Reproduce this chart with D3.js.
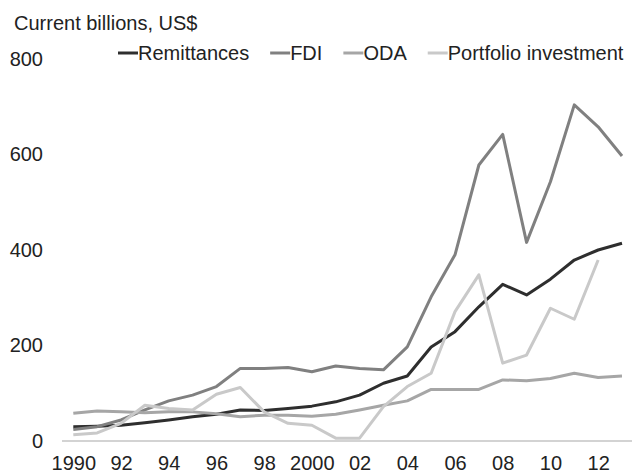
<!DOCTYPE html>
<html lang="en">
  <head>
    <title>flows</title>
    <script src="https://d3js.org/d3.v7.min.js"></script>
    <style>
      body {margin:0; background-color:white;}
      svg text {font-family:"Liberation Sans", Arial, sans-serif; fill:#222;}
    </style>
  </head>
  <body>
    <script>
      // data, billions of current US$
      const years = d3.range(1990, 2014);
      const remittances = [30, 31, 33, 38, 44, 51, 56, 65, 64, 68, 73, 82, 96, 121, 136, 197, 229, 281, 328, 306, 339, 379, 400, 414];
      const fdi = [24, 30, 44, 65, 84, 96, 114, 152, 152, 154, 145, 157, 152, 149, 197, 302, 390, 578, 642, 416, 543, 704, 658, 597];
      const oda = [58, 63, 61, 59, 61, 61, 57, 51, 54, 54, 52, 56, 65, 75, 84, 108, 108, 108, 128, 126, 131, 142, 133, 136];
      const portfolio = [13, 17, 37, 75, 68, 65, 98, 112, 61, 37, 33, 6, 6, 72, 114, 142, 271, 348, 163, 180, 278, 255, 379, null];
      const yTicks = [0, 200, 400, 600, 800];
      const xTicks = [1990, 1992, 1994, 1996, 1998, 2000, 2002, 2004, 2006, 2008, 2010, 2012];
      const xTickLabels = ['1990', '92', '94', '96', '98', '2000', '02', '04', '06', '08', '10', '12'];

      const series = [
        {name: 'Remittances', values: remittances, color: '#2e2e2e'},
        {name: 'FDI', values: fdi, color: '#808080'},
        {name: 'ODA', values: oda, color: '#a6a6a6'},
        {name: 'Portfolio investment', values: portfolio, color: '#c9c9c9'}
      ];

      const width = 632;
      const height = 475;

      const x = d3.scaleLinear().domain([1990, 2013]).range([73.3, 622]);
      const y = d3.scaleLinear().domain([0, 800]).range([441, 59]);

      const svg = d3.select('body').append('svg')
        .attr('width', width).attr('height', height);

      svg.append('text')
        .attr('x', 14).attr('y', 30)
        .style('font-size', '20px')
        .text('Current billions, US$');

      // y labels, no tick lines
      svg.append('g')
        .attr('transform', 'translate(43, 0)')
        .call(d3.axisLeft(y).tickValues(yTicks).tickSize(0).tickPadding(0))
        .call(g => g.select('.domain').remove())
        .call(g => g.selectAll('text').style('font-size', '20px').attr('fill', '#222'));

      // x axis: light baseline and labels
      svg.append('g')
        .attr('transform', `translate(0, ${y(0)})`)
        .call(d3.axisBottom(x).tickValues(xTicks).tickFormat((d, i) => xTickLabels[i]).tickSize(0).tickPadding(15))
        .call(g => g.select('.domain').remove())
        .call(g => g.selectAll('text').style('font-size', '20px').attr('fill', '#222').attr('dy', '0.71em'));

      svg.append('line')
        .attr('x1', 62).attr('x2', width)
        .attr('y1', y(0)).attr('y2', y(0))
        .attr('stroke', '#c4c4c4').attr('stroke-width', 1.5);

      const line = d3.line()
        .defined(d => d[1] != null)
        .x(d => x(d[0]))
        .y(d => y(d[1]));

      svg.append('g').selectAll('path')
        .data(series)
        .enter().append('path')
        .attr('fill', 'none')
        .attr('stroke', d => d.color)
        .attr('stroke-width', 3)
        .attr('stroke-linejoin', 'round')
        .attr('d', d => line(years.map((yr, i) => [yr, d.values[i]])));

      // legend
      const legend = svg.append('g');
      let lx = 118;
      series.forEach(s => {
        legend.append('line')
          .attr('x1', lx).attr('x2', lx + 20)
          .attr('y1', 53).attr('y2', 53)
          .attr('stroke', s.color).attr('stroke-width', 3);
        const t = legend.append('text')
          .attr('x', lx + 20).attr('y', 60)
          .style('font-size', '20px')
          .text(s.name);
        lx += 20 + t.node().getComputedTextLength() + 21;
      });
    </script>
  </body>
</html>
